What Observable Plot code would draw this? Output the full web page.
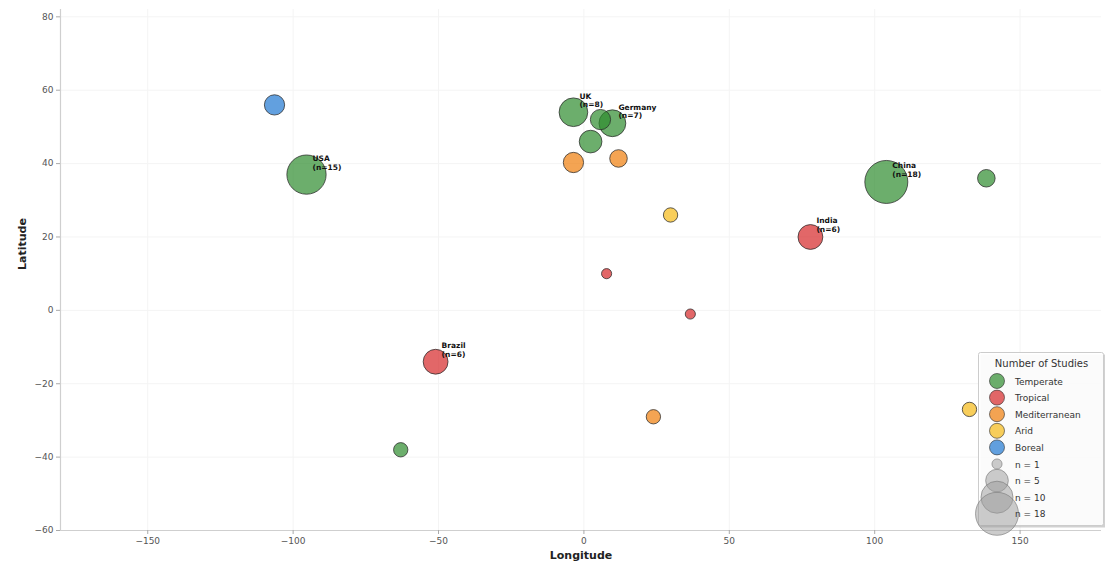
<!DOCTYPE html>
<html>
<head>
<meta charset="utf-8">
<script src="https://cdn.jsdelivr.net/npm/d3@7"></script>
<script src="https://cdn.jsdelivr.net/npm/@observablehq/plot@0.6"></script>
<style>
  html, body { margin: 0; padding: 0; background: #fff; }
  #wrap { position: relative; width: 1105px; height: 569px; font-family: "DejaVu Sans", sans-serif; }
  #legend { position: absolute; left: 978px; top: 352px; overflow: visible; }
</style>
</head>
<body>
<div id="wrap"></div>
<script>
// ---- data ----
const countries = ["Canada","USA","UK","Netherlands","Germany","France","Spain","Italy","Egypt","India","China","Japan","Nigeria","Kenya","Brazil","South Africa","Argentina","Australia"];
const lons      = [-106.4, -95.4, -3.6, 5.7, 9.8, 2.3, -3.6, 11.9, 29.8, 77.9, 104, 138.4, 7.8, 36.6, -51, 23.9, -63, 132.6];
const lats      = [56, 37, 54, 52, 51, 46, 40.3, 41.4, 26, 20, 35, 36, 10, -1, -14, -29, -38, -27];
const counts    = [4, 15, 8, 4, 7, 5, 4, 3, 2, 6, 18, 3, 1, 1, 6, 2, 2, 2];
const climates  = ["Boreal","Temperate","Temperate","Temperate","Temperate","Temperate","Mediterranean","Mediterranean","Arid","Tropical","Temperate","Temperate","Tropical","Tropical","Tropical","Mediterranean","Temperate","Arid"];
const labelled  = ["USA","UK","Germany","China","India","Brazil"];

const climateNames  = ["Temperate","Tropical","Mediterranean","Arid","Boreal"];
const climateColors = ["#2e8b2e","#d62728","#f07d0a","#f5b916","#1f78d1"];
const sizeLegend    = [1, 5, 10, 18];
const xTicks = [-150, -100, -50, 0, 50, 100, 150];
const yTicks = [-60, -40, -20, 0, 20, 40, 60, 80];

const data = countries.map((c, i) => ({country: c, lon: lons[i], lat: lats[i], n: counts[i], climate: climates[i]}));
const labels = data.filter(d => labelled.includes(d.country));

const chart = Plot.plot({
  width: 1105, height: 569,
  marginLeft: 60, marginRight: 4, marginTop: 9, marginBottom: 39,
  style: {fontFamily: "DejaVu Sans, sans-serif", fontSize: "9px", color: "#555", background: "#fff", overflow: "visible"},
  x: {domain: [-180, 178], label: null},
  y: {domain: [-60, 82], label: null},
  r: {domain: [0, 18], range: [0, 21.5]},
  color: {domain: climateNames, range: climateColors},
  marks: [
    Plot.gridX(xTicks, {stroke: "#f4f4f4", strokeOpacity: 1}),
    Plot.gridY(yTicks, {stroke: "#f4f4f4", strokeOpacity: 1}),
    Plot.ruleX([-180], {stroke: "#cfcfcf", strokeWidth: 1.2}),
    Plot.ruleY([-60], {stroke: "#cfcfcf", strokeWidth: 1.2}),
    Plot.axisX({ticks: xTicks, tickSize: 4, tickPadding: 3, stroke: "#aaa", label: null, fill: "#555"}),
    Plot.axisY({ticks: yTicks, tickSize: 4, tickPadding: 3, stroke: "#aaa", label: null, fill: "#555"}),
    Plot.dot(data, {x: "lon", y: "lat", r: "n", fill: "climate", fillOpacity: 0.7, stroke: "#2a2a2a", strokeOpacity: 0.75, strokeWidth: 1}),
    Plot.text(labels, {x: "lon", y: "lat", text: d => `${d.country}\n(n=${d.n})`, dx: 6, dy: -5, textAnchor: "start", lineAnchor: "bottom", fontSize: 7.5, fontWeight: "bold", fill: "#111", lineHeight: 1.15}),
    Plot.text(["Longitude"], {frameAnchor: "bottom", dy: 28, fontSize: 11, fontWeight: "bold", fill: "#222"}),
    Plot.text(["Latitude"], {frameAnchor: "left", dx: -38, rotate: -90, fontSize: 11, fontWeight: "bold", fill: "#222"})
  ]
});
document.getElementById("wrap").appendChild(chart);

// ---- legend ----
const rScale = chart.scale("r");
const colorScale = chart.scale("color");
const lw = 125, lh = 173;
const leg = d3.select("#wrap").append("svg").attr("id", "legend")
  .attr("width", lw + 6).attr("height", lh + 20);
leg.append("rect").attr("x", 2.5).attr("y", 2.5).attr("width", lw).attr("height", lh)
  .attr("fill", "#999").attr("opacity", 0.45);
leg.append("rect").attr("x", 0.5).attr("y", 0.5).attr("width", lw).attr("height", lh)
  .attr("fill", "#fff").attr("fill-opacity", 0.9).attr("stroke", "#cccccc").attr("rx", 2);
leg.append("text").attr("x", lw / 2 + 1).attr("y", 15).attr("text-anchor", "middle")
  .attr("font-size", 10).attr("fill", "#333").text("Number of Studies");
const cx = 19, tx = 37, y0 = 29, step = 16.6;
climateNames.forEach((c, i) => {
  const y = y0 + i * step;
  leg.append("circle").attr("cx", cx).attr("cy", y).attr("r", 7.5)
    .attr("fill", colorScale.apply(c)).attr("fill-opacity", 0.7)
    .attr("stroke", "#2a2a2a").attr("stroke-opacity", 0.6);
  leg.append("text").attr("x", tx).attr("y", y + 3.5).attr("font-size", 9).attr("fill", "#333").text(c);
});
sizeLegend.forEach((n, j) => {
  const y = y0 + (climateNames.length + j) * step;
  leg.append("circle").attr("cx", cx).attr("cy", y).attr("r", rScale.apply(n))
    .attr("fill", "#999").attr("fill-opacity", 0.5)
    .attr("stroke", "#777").attr("stroke-opacity", 0.6);
  leg.append("text").attr("x", tx).attr("y", y + 3.5).attr("font-size", 9).attr("fill", "#333").text(`n = ${n}`);
});
</script>
</body>
</html>
